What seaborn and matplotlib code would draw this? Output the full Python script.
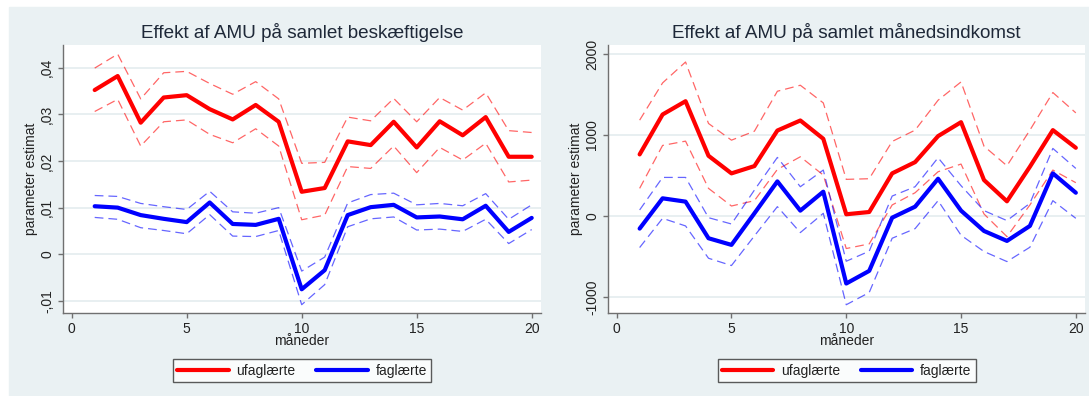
import numpy as np
import matplotlib
matplotlib.use("Agg")
import matplotlib.pyplot as plt
import matplotlib.patches as mpatches
import matplotlib.ticker as mticker
import seaborn as sns

# data
maaneder = list(range(1, 21))

# employment effect (left panel)
besk_ufag = [0.0352, 0.0382, 0.0282, 0.0336, 0.0341, 0.0311, 0.0289, 0.0320, 0.0284, 0.0134,
             0.0142, 0.0242, 0.0234, 0.0284, 0.0229, 0.0285, 0.0255, 0.0294, 0.0209, 0.0209]
besk_ufag_hi = [0.0399, 0.0429, 0.0333, 0.0389, 0.0392, 0.0366, 0.0343, 0.0370, 0.0333, 0.0195,
                0.0197, 0.0294, 0.0286, 0.0334, 0.0284, 0.0336, 0.0309, 0.0346, 0.0265, 0.0261]
besk_ufag_lo = [0.0306, 0.0332, 0.0232, 0.0284, 0.0288, 0.0257, 0.0239, 0.0269, 0.0232, 0.0074,
                0.0084, 0.0188, 0.0184, 0.0232, 0.0175, 0.0229, 0.0202, 0.0238, 0.0155, 0.0159]
besk_fag = [0.0103, 0.0100, 0.0084, 0.0076, 0.0069, 0.0111, 0.0065, 0.0063, 0.0076, -0.0075,
            -0.0034, 0.0084, 0.0101, 0.0106, 0.0079, 0.0081, 0.0075, 0.0104, 0.0048, 0.0078]
besk_fag_hi = [0.0126, 0.0124, 0.0109, 0.0102, 0.0096, 0.0135, 0.0091, 0.0088, 0.0100, -0.0036,
               -0.0006, 0.0110, 0.0128, 0.0131, 0.0106, 0.0109, 0.0104, 0.0130, 0.0075, 0.0106]
besk_fag_lo = [0.0079, 0.0075, 0.0057, 0.0051, 0.0044, 0.0085, 0.0039, 0.0038, 0.0051, -0.0108,
               -0.0065, 0.0059, 0.0076, 0.0080, 0.0052, 0.0054, 0.0049, 0.0075, 0.0023, 0.0053]

# monthly income effect (right panel)
ind_ufag = [760, 1253, 1417, 743, 526, 616, 1055, 1179, 953, 21,
            49, 526, 665, 986, 1158, 444, 181, 608, 1060, 842]
ind_ufag_hi = [1183, 1643, 1901, 1142, 936, 1047, 1540, 1614, 1396, 452,
               460, 920, 1060, 1429, 1655, 862, 620, 1060, 1524, 1273]
ind_ufag_lo = [341, 871, 924, 341, 123, 189, 575, 731, 505, -402,
               -345, 136, 287, 546, 641, 25, -255, 136, 567, 411]
ind_fag = [-156, 218, 177, -275, -357, 33, 427, 66, 300, -834,
           -678, -21, 115, 460, 66, -185, -308, -123, 526, 287]
ind_fag_hi = [74, 476, 476, -21, -99, 320, 723, 361, 567, -559,
              -435, 246, 361, 719, 374, 66, -57, 156, 834, 587]
ind_fag_lo = [-390, -29, -123, -522, -612, -246, 115, -205, 33, -1096,
              -945, -275, -156, 189, -238, -439, -563, -386, 189, -29]

titles = ["Effekt af AMU på samlet beskæftigelse", "Effekt af AMU på samlet månedsindkomst"]
grupper = ["ufaglærte", "faglærte"]

BG = "#EAF1F3"
TXT = "#222222"
FS = 10

sns.set_style("white")
plt.rcParams["font.family"] = ["Liberation Sans", "DejaVu Sans"]

fig = plt.figure(figsize=(10.89, 3.96), dpi=100)
fig.patches.append(mpatches.Rectangle((9 / 1089, 0), 1080 / 1089, 389 / 396,
                                      transform=fig.transFigure, color=BG, zorder=-10))

ax1 = fig.add_axes([63.3 / 1089, 1 - 313 / 396, 477.6 / 1089, 268 / 396])
ax2 = fig.add_axes([608.3 / 1089, 1 - 313 / 396, 476.7 / 1089, 268 / 396])


def danish_fmt(v, pos):
    if abs(v) < 1e-12:
        return "0"
    return f"{v:.2f}".replace("0.", ".").replace(".", ",")


panels = [
    (ax1, [besk_ufag, besk_ufag_hi, besk_ufag_lo], [besk_fag, besk_fag_hi, besk_fag_lo],
     (-0.01258, 0.04485), [-0.01, 0, 0.01, 0.02, 0.03, 0.04], mticker.FuncFormatter(danish_fmt)),
    (ax2, [ind_ufag, ind_ufag_hi, ind_ufag_lo], [ind_fag, ind_fag_hi, ind_fag_lo],
     (-1198, 2111), [-1000, 0, 1000, 2000], mticker.FuncFormatter(lambda v, p: f"{v:.0f}")),
]

for i, (ax, red, blue, ylim, yticks, fmt) in enumerate(panels):
    ax.set_facecolor("white")
    for series, col in [(red, "#ff0000"), (blue, "#0000ff")]:
        est, hi, lo = series
        sns.lineplot(x=maaneder, y=hi, ax=ax, color=col, lw=0.9, alpha=0.6,
                     linestyle=(0, (7, 4)))
        sns.lineplot(x=maaneder, y=lo, ax=ax, color=col, lw=0.9, alpha=0.6,
                     linestyle=(0, (7, 4)))
        sns.lineplot(x=maaneder, y=est, ax=ax, color=col, lw=3.0, zorder=5)
    ax.set_xlim(-0.365, 20.40)
    ax.set_ylim(*ylim)
    ax.set_xticks([0, 5, 10, 15, 20])
    ax.set_yticks(yticks)
    ax.yaxis.set_major_formatter(fmt)
    ax.grid(axis="y", color="#E6EEF0", lw=1.3)
    ax.set_axisbelow(True)
    for s in ["top", "right"]:
        ax.spines[s].set_visible(False)
    for s in ["left", "bottom"]:
        ax.spines[s].set_color("#707070")
        ax.spines[s].set_linewidth(1.0)
    ax.tick_params(axis="both", direction="out", length=3.5, width=1, color="#707070",
                   labelsize=FS, labelcolor=TXT, left=True, bottom=True, pad=3)
    plt.setp(ax.get_yticklabels(), rotation=90, va="center")
    ax.set_xlabel("måneder", fontsize=FS, color=TXT, labelpad=-1.5)
    ax.set_ylabel("parameter estimat", fontsize=FS, color=TXT, labelpad=1.5)
    ax.set_title(titles[i], fontsize=13.6, color="#1e2838", pad=5)

    handles = [plt.Line2D([], [], color="#ff0000", lw=3), plt.Line2D([], [], color="#0000ff", lw=3)]
    leg = ax.legend(handles, grupper, loc="center", bbox_to_anchor=(0.5, -0.2146), ncol=2,
                    frameon=True, fancybox=False, edgecolor="#333333", fontsize=FS,
                    handlelength=3.7, columnspacing=1.5, borderpad=0.32, handletextpad=0.55)
    leg.get_frame().set_linewidth(1.0)
    for t in leg.get_texts():
        t.set_color(TXT)

fig.savefig("out.png", dpi=100, facecolor="white")
